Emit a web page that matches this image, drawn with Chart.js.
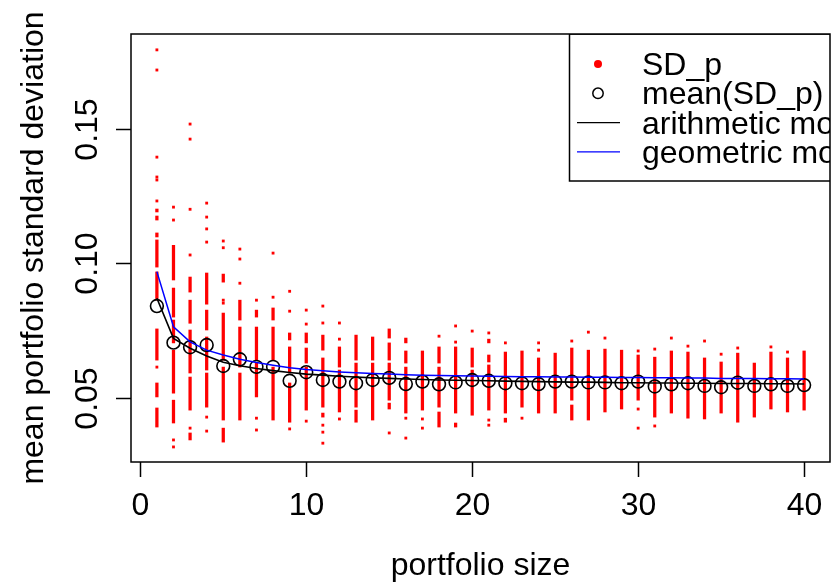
<!DOCTYPE html>
<html>
<head>
<meta charset="utf-8">
<script src="https://cdn.jsdelivr.net/npm/chart.js@4/dist/chart.umd.min.js"></script>
<style>
  html, body { margin: 0; padding: 0; background: #fff; }
</style>
</head>
<body>
<canvas id="chartSd" width="838" height="583"></canvas>
<script>
/* portfolio size vs. standard deviation of the portfolio */

const sizes = Array.from({ length: 40 }, (_, i) => i + 1);

const xTicks = [0, 10, 20, 30, 40];
const yTicks = [0.05, 0.10, 0.15];
const yTickLabels = ['0.05', '0.10', '0.15'];

// mean(SD_p) per portfolio size
const meanSd = [
  0.0841, 0.0705, 0.0688, 0.0696, 0.0618, 0.0643, 0.0615, 0.0615, 0.0563, 0.0595,
  0.0566, 0.0560, 0.0554, 0.0566, 0.0574, 0.0551, 0.0560, 0.0550, 0.0557, 0.0566,
  0.0563, 0.0554, 0.0554, 0.0551, 0.0560, 0.0560, 0.0557, 0.0557, 0.0554, 0.0560,
  0.0542, 0.0550, 0.0554, 0.0544, 0.0539, 0.0556, 0.0544, 0.0550, 0.0544, 0.0547,
];

// arithmetic model
const arithModel = [
  0.0870, 0.0721, 0.0684, 0.0655, 0.0632, 0.0619, 0.0609, 0.0601, 0.0594, 0.0588,
  0.0584, 0.0580, 0.0577, 0.0574, 0.0572, 0.0570, 0.0568, 0.0566, 0.0565, 0.0564,
  0.0563, 0.0562, 0.0561, 0.0560, 0.0559, 0.0558, 0.0558, 0.0557, 0.0556, 0.0556,
  0.0555, 0.0555, 0.0554, 0.0554, 0.0553, 0.0553, 0.0553, 0.0552, 0.0552, 0.0551,
];

// geometric model
const geomModel = [
  0.0969, 0.0764, 0.0708, 0.0677, 0.0659, 0.0643, 0.0631, 0.0621, 0.0612, 0.0605,
  0.0600, 0.0596, 0.0593, 0.0590, 0.0588, 0.0586, 0.0584, 0.0583, 0.0582, 0.0581,
  0.0580, 0.0579, 0.0578, 0.0578, 0.0577, 0.0577, 0.0576, 0.0576, 0.0575, 0.0575,
  0.0574, 0.0574, 0.0573, 0.0573, 0.0572, 0.0572, 0.0572, 0.0571, 0.0571, 0.0570,
];

// SD_p samples: dense stretches as [high, low] ranges, one list per size
const sdRuns = [
  [[0.1202, 0.1191], [0.1176, 0.1161], [0.1113, 0.1098], [0.1087, 0.0986], [0.0968, 0.0863], [0.0756, 0.0640], [0.0555, 0.0503], [0.0462, 0.0391]],
  [[0.1067, 0.0938], [0.0908, 0.0800], [0.0789, 0.0704], [0.0677, 0.0517], [0.0491, 0.0406]],
  [[0.0949, 0.0893], [0.0863, 0.0777], [0.0752, 0.0592], [0.0577, 0.0454], [0.0369, 0.0343]],
  [[0.0964, 0.0848], [0.0826, 0.0752], [0.0726, 0.0603], [0.0592, 0.0465]],
  [[0.0960, 0.0930], [0.0815, 0.0640], [0.0614, 0.0417], [0.0387, 0.0335]],
  [[0.0863, 0.0789], [0.0763, 0.0614], [0.0592, 0.0417]],
  [[0.0826, 0.0800], [0.0763, 0.0640], [0.0629, 0.0503]],
  [[0.0834, 0.0789], [0.0763, 0.0640], [0.0614, 0.0417]],
  [[0.0741, 0.0715], [0.0689, 0.0592], [0.0555, 0.0409]],
  [[0.0741, 0.0704], [0.0685, 0.0629], [0.0614, 0.0454]],
  [[0.0733, 0.0677], [0.0648, 0.0465], [0.0443, 0.0428]],
  [[0.0689, 0.0614], [0.0603, 0.0447]],
  [[0.0733, 0.0640], [0.0629, 0.0465], [0.0454, 0.0409]],
  [[0.0726, 0.0640], [0.0629, 0.0417]],
  [[0.0756, 0.0722], [0.0704, 0.0640], [0.0629, 0.0491], [0.0480, 0.0458]],
  [[0.0722, 0.0704], [0.0674, 0.0629], [0.0614, 0.0443]],
  [[0.0674, 0.0454]],
  [[0.0689, 0.0629], [0.0614, 0.0465], [0.0447, 0.0391]],
  [[0.0689, 0.0443], [0.0406, 0.0391]],
  [[0.0685, 0.0614], [0.0603, 0.0435]],
  [[0.0718, 0.0704], [0.0659, 0.0633], [0.0622, 0.0454]],
  [[0.0670, 0.0443], [0.0424, 0.0409]],
  [[0.0674, 0.0465]],
  [[0.0648, 0.0443]],
  [[0.0666, 0.0443]],
  [[0.0685, 0.0491], [0.0473, 0.0417]],
  [[0.0677, 0.0417]],
  [[0.0681, 0.0447]],
  [[0.0677, 0.0458]],
  [[0.0659, 0.0491]],
  [[0.0651, 0.0428]],
  [[0.0674, 0.0443]],
  [[0.0670, 0.0424]],
  [[0.0648, 0.0421]],
  [[0.0633, 0.0443]],
  [[0.0666, 0.0409]],
  [[0.0629, 0.0428]],
  [[0.0670, 0.0458]],
  [[0.0648, 0.0447]],
  [[0.0674, 0.0454]],
];

// SD_p samples standing on their own
const sdDots = [
  [0.1794, 0.1719, 0.1395, 0.1321, 0.1310, 0.1232, 0.0614],
  [0.1209, 0.1161, 0.0343, 0.0317],
  [0.1518, 0.1462, 0.1201, 0.1031, 0.0387],
  [0.1224, 0.1172, 0.1128, 0.1079, 0.0428, 0.0376],
  [0.1083, 0.1058, 0.0863, 0.0852],
  [0.1053, 0.1016, 0.0926],
  [0.0863, 0.0424, 0.0380],
  [0.1038, 0.0874],
  [0.0896, 0.0822, 0.0384],
  [0.0826, 0.0774, 0.0413],
  [0.0841, 0.0778, 0.0398, 0.0372, 0.0331],
  [0.0778, 0.0718, 0.0421],
  [],
  [],
  [0.0369],
  [0.0424, 0.0350],
  [0.0421, 0.0387],
  [0.0729],
  [0.0767, 0.0707],
  [0.0748],
  [0.0741, 0.0417, 0.0398],
  [0.0704],
  [0.0424],
  [0.0704, 0.0677],
  [],
  [0.0711],
  [0.0744],
  [0.0722],
  [],
  [0.0674, 0.0458, 0.0387],
  [0.0681, 0.0395],
  [0.0722],
  [0.0692],
  [0.0711],
  [0.0662],
  [0.0685],
  [],
  [0.0689],
  [0.0670],
  [],
];

const FONT = '"Liberation Sans", Arial, Helvetica, sans-serif';

const runPoints = sdRuns.flatMap((runs, i) => runs.map(r => ({ x: sizes[i], y: r })));
const dotPoints = sdDots.flatMap((vals, i) => vals.map(v => ({ x: sizes[i], y: v })));

/* R-style frame, axes, titles and legend */
const basePlot = {
  id: 'basePlot',
  afterDraw(chart) {
    const { ctx, chartArea: ca, scales: { x, y } } = chart;
    ctx.save();
    ctx.strokeStyle = '#000';
    ctx.fillStyle = '#000';
    ctx.lineWidth = 1.5;

    // box
    ctx.strokeRect(ca.left, ca.top, ca.right - ca.left, ca.bottom - ca.top);

    // tick marks + labels
    ctx.font = `32px ${FONT}`;
    ctx.textAlign = 'center';
    ctx.textBaseline = 'alphabetic';
    x.ticks.forEach(t => {
      const px = Math.round(x.getPixelForValue(t.value)) + 0.5;
      ctx.beginPath(); ctx.moveTo(px, ca.bottom); ctx.lineTo(px, ca.bottom + 15); ctx.stroke();
      ctx.fillText(String(t.value), px, 515);
    });
    y.ticks.forEach((t, i) => {
      const py = Math.round(y.getPixelForValue(t.value)) + 0.5;
      ctx.beginPath(); ctx.moveTo(ca.left, py); ctx.lineTo(ca.left - 15, py); ctx.stroke();
      ctx.save();
      ctx.translate(97, py);
      ctx.rotate(-Math.PI / 2);
      ctx.fillText(yTickLabels[i], 0, 0);
      ctx.restore();
    });

    // axis titles
    ctx.fillText('portfolio size', (ca.left + ca.right) / 2, 575);
    ctx.save();
    ctx.translate(43, (ca.top + ca.bottom) / 2);
    ctx.rotate(-Math.PI / 2);
    ctx.fillText('mean portfolio standard deviation', 0, 0);
    ctx.restore();

    // legend (clipped to the plot region)
    ctx.beginPath();
    ctx.rect(ca.left, ca.top, ca.right - ca.left, ca.bottom - ca.top);
    ctx.clip();
    const lx = 569.5, top = ca.top, rowH = 29.3, row0 = 64;
    ctx.strokeRect(lx, top, ca.right - lx + 10, 147);
    ctx.textAlign = 'left';
    const items = ['SD_p', 'mean(SD_p)', 'arithmetic model', 'geometric model'];
    items.forEach((label, i) => {
      const ry = row0 + i * rowH;
      if (i === 0) {
        ctx.fillStyle = '#ff0000';
        ctx.beginPath(); ctx.arc(598, ry, 4, 0, Math.PI * 2); ctx.fill();
      } else if (i === 1) {
        ctx.strokeStyle = '#000'; ctx.lineWidth = 1.5;
        ctx.beginPath(); ctx.arc(598, ry, 5.2, 0, Math.PI * 2); ctx.stroke();
      } else {
        ctx.strokeStyle = i === 2 ? '#000' : '#0000ff'; ctx.lineWidth = 1.4;
        ctx.beginPath(); ctx.moveTo(577, ry); ctx.lineTo(620, ry); ctx.stroke();
      }
      ctx.fillStyle = '#000';
      ctx.fillText(label, 642, ry + 11);
    });
    ctx.restore();
  },
};

new Chart(document.getElementById('chartSd'), {
  type: 'scatter',
  data: {
    datasets: [
      {
        type: 'line',
        label: 'geometric model',
        data: sizes.map((n, i) => ({ x: n, y: geomModel[i] })),
        borderColor: '#0000ff',
        borderWidth: 1.5,
        pointRadius: 0,
        tension: 0,
        order: 0,
      },
      {
        type: 'line',
        label: 'arithmetic model',
        data: sizes.map((n, i) => ({ x: n, y: arithModel[i] })),
        borderColor: '#000000',
        borderWidth: 1.6,
        pointRadius: 0,
        tension: 0,
        order: 1,
      },
      {
        label: 'mean(SD_p)',
        data: sizes.map((n, i) => ({ x: n, y: meanSd[i] })),
        pointStyle: 'circle',
        pointRadius: 6.4,
        borderColor: '#000000',
        borderWidth: 1.6,
        backgroundColor: 'rgba(0,0,0,0)',
        order: 2,
      },
      {
        label: 'SD_p',
        data: dotPoints,
        pointStyle: 'rect',
        pointRadius: 2,
        borderWidth: 0,
        backgroundColor: '#ff0000',
        order: 3,
      },
      {
        type: 'bar',
        label: 'SD_p runs',
        data: runPoints,
        barThickness: 2.6,
        backgroundColor: '#ff0000',
        borderWidth: 0,
        order: 4,
      },
    ],
  },
  options: {
    responsive: false,
    animation: false,
    events: [],
    layout: { padding: { top: 34, right: 5, left: 0, bottom: 0 } },
    plugins: { legend: { display: false }, tooltip: { enabled: false } },
    scales: {
      x: {
        type: 'linear',
        offset: false,
        min: -0.56,
        max: 41.56,
        grid: { display: false, offset: false },
        border: { display: false },
        ticks: { display: false },
        afterBuildTicks: s => { s.ticks = xTicks.map(v => ({ value: v })); },
        afterFit: s => { s.height = 121; },
      },
      y: {
        type: 'linear',
        min: 0.0261,
        max: 0.1853,
        grid: { display: false },
        border: { display: false },
        ticks: { display: false },
        afterBuildTicks: s => { s.ticks = yTicks.map(v => ({ value: v })); },
        afterFit: s => { s.width = 131; },
      },
    },
  },
  plugins: [basePlot],
});
</script>
</body>
</html>
